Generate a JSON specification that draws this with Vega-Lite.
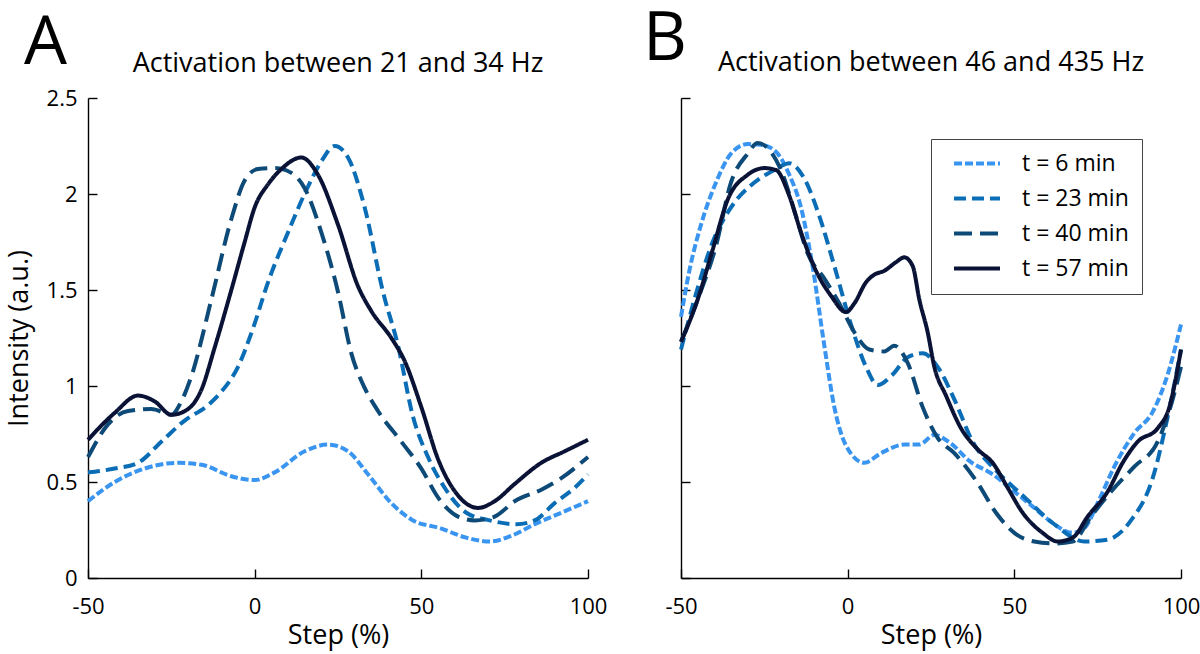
{
  "$schema": "https://vega.github.io/schema/vega-lite/v6.json",
  "background": "white",
  "padding": {"left": 5, "top": 6, "right": 0, "bottom": 5},
  "config": {
    "font": "Open Sans",
    "view": {"stroke": null},
    "axis": {
      "grid": false,
      "domainColor": "#000",
      "domainWidth": 1.4,
      "tickColor": "#000",
      "tickWidth": 1.4,
      "tickSize": -9,
      "labelFlush": false,
      "labelColor": "#000",
      "labelFontSize": 22,
      "titleFontSize": 27,
      "titleFontWeight": "normal",
      "titleColor": "#000"
    },
    "title": {"fontWeight": "normal", "color": "#000"},
    "legend": {"labelColor": "#000"}
  },
  "data": {
    "values": [
      {"panel": "A", "time": "t = 6 min", "step": -50, "value": 0.40},
      {"panel": "A", "time": "t = 6 min", "step": -42, "value": 0.50},
      {"panel": "A", "time": "t = 6 min", "step": -33, "value": 0.57},
      {"panel": "A", "time": "t = 6 min", "step": -23, "value": 0.60},
      {"panel": "A", "time": "t = 6 min", "step": -16, "value": 0.59},
      {"panel": "A", "time": "t = 6 min", "step": -7, "value": 0.53},
      {"panel": "A", "time": "t = 6 min", "step": 0, "value": 0.51},
      {"panel": "A", "time": "t = 6 min", "step": 6, "value": 0.55},
      {"panel": "A", "time": "t = 6 min", "step": 15, "value": 0.66},
      {"panel": "A", "time": "t = 6 min", "step": 22, "value": 0.695},
      {"panel": "A", "time": "t = 6 min", "step": 28, "value": 0.66},
      {"panel": "A", "time": "t = 6 min", "step": 34, "value": 0.54},
      {"panel": "A", "time": "t = 6 min", "step": 41, "value": 0.39},
      {"panel": "A", "time": "t = 6 min", "step": 47.5, "value": 0.30},
      {"panel": "A", "time": "t = 6 min", "step": 55.5, "value": 0.26},
      {"panel": "A", "time": "t = 6 min", "step": 63.5, "value": 0.21},
      {"panel": "A", "time": "t = 6 min", "step": 70.5, "value": 0.19},
      {"panel": "A", "time": "t = 6 min", "step": 77, "value": 0.22},
      {"panel": "A", "time": "t = 6 min", "step": 84, "value": 0.28},
      {"panel": "A", "time": "t = 6 min", "step": 92, "value": 0.34},
      {"panel": "A", "time": "t = 6 min", "step": 100, "value": 0.40},

      {"panel": "A", "time": "t = 23 min", "step": -50, "value": 0.55},
      {"panel": "A", "time": "t = 23 min", "step": -42, "value": 0.57},
      {"panel": "A", "time": "t = 23 min", "step": -35, "value": 0.60},
      {"panel": "A", "time": "t = 23 min", "step": -28, "value": 0.71},
      {"panel": "A", "time": "t = 23 min", "step": -21, "value": 0.82},
      {"panel": "A", "time": "t = 23 min", "step": -14, "value": 0.90},
      {"panel": "A", "time": "t = 23 min", "step": -10, "value": 0.97},
      {"panel": "A", "time": "t = 23 min", "step": -5, "value": 1.10},
      {"panel": "A", "time": "t = 23 min", "step": -0.5, "value": 1.30},
      {"panel": "A", "time": "t = 23 min", "step": 4, "value": 1.54},
      {"panel": "A", "time": "t = 23 min", "step": 10, "value": 1.80},
      {"panel": "A", "time": "t = 23 min", "step": 15.5, "value": 2.02},
      {"panel": "A", "time": "t = 23 min", "step": 20, "value": 2.17},
      {"panel": "A", "time": "t = 23 min", "step": 24, "value": 2.25},
      {"panel": "A", "time": "t = 23 min", "step": 28, "value": 2.19},
      {"panel": "A", "time": "t = 23 min", "step": 33, "value": 1.93},
      {"panel": "A", "time": "t = 23 min", "step": 38.5, "value": 1.49},
      {"panel": "A", "time": "t = 23 min", "step": 43, "value": 1.21},
      {"panel": "A", "time": "t = 23 min", "step": 47.5, "value": 0.84},
      {"panel": "A", "time": "t = 23 min", "step": 52, "value": 0.63},
      {"panel": "A", "time": "t = 23 min", "step": 57, "value": 0.47},
      {"panel": "A", "time": "t = 23 min", "step": 63.5, "value": 0.34},
      {"panel": "A", "time": "t = 23 min", "step": 70.5, "value": 0.30},
      {"panel": "A", "time": "t = 23 min", "step": 78.5, "value": 0.28},
      {"panel": "A", "time": "t = 23 min", "step": 84, "value": 0.30},
      {"panel": "A", "time": "t = 23 min", "step": 90, "value": 0.39},
      {"panel": "A", "time": "t = 23 min", "step": 96, "value": 0.47},
      {"panel": "A", "time": "t = 23 min", "step": 100, "value": 0.54},

      {"panel": "A", "time": "t = 40 min", "step": -50, "value": 0.63},
      {"panel": "A", "time": "t = 40 min", "step": -44, "value": 0.80},
      {"panel": "A", "time": "t = 40 min", "step": -38, "value": 0.87},
      {"panel": "A", "time": "t = 40 min", "step": -31, "value": 0.88},
      {"panel": "A", "time": "t = 40 min", "step": -25, "value": 0.85},
      {"panel": "A", "time": "t = 40 min", "step": -22, "value": 0.92},
      {"panel": "A", "time": "t = 40 min", "step": -19, "value": 1.05},
      {"panel": "A", "time": "t = 40 min", "step": -13, "value": 1.45},
      {"panel": "A", "time": "t = 40 min", "step": -7, "value": 1.87},
      {"panel": "A", "time": "t = 40 min", "step": -3, "value": 2.07},
      {"panel": "A", "time": "t = 40 min", "step": 1, "value": 2.13},
      {"panel": "A", "time": "t = 40 min", "step": 6, "value": 2.135},
      {"panel": "A", "time": "t = 40 min", "step": 11, "value": 2.11},
      {"panel": "A", "time": "t = 40 min", "step": 15, "value": 2.03},
      {"panel": "A", "time": "t = 40 min", "step": 20, "value": 1.80},
      {"panel": "A", "time": "t = 40 min", "step": 25, "value": 1.49},
      {"panel": "A", "time": "t = 40 min", "step": 29, "value": 1.17},
      {"panel": "A", "time": "t = 40 min", "step": 33, "value": 0.99},
      {"panel": "A", "time": "t = 40 min", "step": 37, "value": 0.87},
      {"panel": "A", "time": "t = 40 min", "step": 44, "value": 0.71},
      {"panel": "A", "time": "t = 40 min", "step": 50, "value": 0.57},
      {"panel": "A", "time": "t = 40 min", "step": 55, "value": 0.42},
      {"panel": "A", "time": "t = 40 min", "step": 61, "value": 0.32},
      {"panel": "A", "time": "t = 40 min", "step": 66, "value": 0.30},
      {"panel": "A", "time": "t = 40 min", "step": 72, "value": 0.32},
      {"panel": "A", "time": "t = 40 min", "step": 78, "value": 0.40},
      {"panel": "A", "time": "t = 40 min", "step": 86, "value": 0.46},
      {"panel": "A", "time": "t = 40 min", "step": 92, "value": 0.52},
      {"panel": "A", "time": "t = 40 min", "step": 100, "value": 0.63},

      {"panel": "A", "time": "t = 57 min", "step": -50, "value": 0.72},
      {"panel": "A", "time": "t = 57 min", "step": -42, "value": 0.86},
      {"panel": "A", "time": "t = 57 min", "step": -35, "value": 0.95},
      {"panel": "A", "time": "t = 57 min", "step": -30, "value": 0.92},
      {"panel": "A", "time": "t = 57 min", "step": -25, "value": 0.85},
      {"panel": "A", "time": "t = 57 min", "step": -20, "value": 0.88},
      {"panel": "A", "time": "t = 57 min", "step": -16, "value": 0.98},
      {"panel": "A", "time": "t = 57 min", "step": -12, "value": 1.20},
      {"panel": "A", "time": "t = 57 min", "step": -7, "value": 1.50},
      {"panel": "A", "time": "t = 57 min", "step": -3, "value": 1.75},
      {"panel": "A", "time": "t = 57 min", "step": 0, "value": 1.93},
      {"panel": "A", "time": "t = 57 min", "step": 4, "value": 2.05},
      {"panel": "A", "time": "t = 57 min", "step": 8, "value": 2.13},
      {"panel": "A", "time": "t = 57 min", "step": 14, "value": 2.19},
      {"panel": "A", "time": "t = 57 min", "step": 19, "value": 2.10},
      {"panel": "A", "time": "t = 57 min", "step": 25, "value": 1.84},
      {"panel": "A", "time": "t = 57 min", "step": 31, "value": 1.52},
      {"panel": "A", "time": "t = 57 min", "step": 35, "value": 1.39},
      {"panel": "A", "time": "t = 57 min", "step": 41, "value": 1.25},
      {"panel": "A", "time": "t = 57 min", "step": 45, "value": 1.13},
      {"panel": "A", "time": "t = 57 min", "step": 50, "value": 0.89},
      {"panel": "A", "time": "t = 57 min", "step": 55, "value": 0.62},
      {"panel": "A", "time": "t = 57 min", "step": 61, "value": 0.43},
      {"panel": "A", "time": "t = 57 min", "step": 67, "value": 0.365},
      {"panel": "A", "time": "t = 57 min", "step": 72, "value": 0.40},
      {"panel": "A", "time": "t = 57 min", "step": 78, "value": 0.49},
      {"panel": "A", "time": "t = 57 min", "step": 86, "value": 0.60},
      {"panel": "A", "time": "t = 57 min", "step": 93, "value": 0.66},
      {"panel": "A", "time": "t = 57 min", "step": 100, "value": 0.72},

      {"panel": "B", "time": "t = 6 min", "step": -50, "value": 1.36},
      {"panel": "B", "time": "t = 6 min", "step": -47.5, "value": 1.60},
      {"panel": "B", "time": "t = 6 min", "step": -44, "value": 1.84},
      {"panel": "B", "time": "t = 6 min", "step": -39.5, "value": 2.06},
      {"panel": "B", "time": "t = 6 min", "step": -35, "value": 2.21},
      {"panel": "B", "time": "t = 6 min", "step": -30, "value": 2.26},
      {"panel": "B", "time": "t = 6 min", "step": -25.5, "value": 2.255},
      {"panel": "B", "time": "t = 6 min", "step": -21, "value": 2.21},
      {"panel": "B", "time": "t = 6 min", "step": -17.5, "value": 2.10},
      {"panel": "B", "time": "t = 6 min", "step": -14, "value": 1.93},
      {"panel": "B", "time": "t = 6 min", "step": -10.5, "value": 1.62},
      {"panel": "B", "time": "t = 6 min", "step": -7, "value": 1.21},
      {"panel": "B", "time": "t = 6 min", "step": -4, "value": 0.89},
      {"panel": "B", "time": "t = 6 min", "step": -0.5, "value": 0.69},
      {"panel": "B", "time": "t = 6 min", "step": 5, "value": 0.60},
      {"panel": "B", "time": "t = 6 min", "step": 10, "value": 0.65},
      {"panel": "B", "time": "t = 6 min", "step": 17, "value": 0.695},
      {"panel": "B", "time": "t = 6 min", "step": 21.5, "value": 0.695},
      {"panel": "B", "time": "t = 6 min", "step": 26, "value": 0.745},
      {"panel": "B", "time": "t = 6 min", "step": 31, "value": 0.70},
      {"panel": "B", "time": "t = 6 min", "step": 36.5, "value": 0.61},
      {"panel": "B", "time": "t = 6 min", "step": 43.5, "value": 0.54},
      {"panel": "B", "time": "t = 6 min", "step": 50, "value": 0.45},
      {"panel": "B", "time": "t = 6 min", "step": 56, "value": 0.365},
      {"panel": "B", "time": "t = 6 min", "step": 62, "value": 0.28},
      {"panel": "B", "time": "t = 6 min", "step": 67.5, "value": 0.235},
      {"panel": "B", "time": "t = 6 min", "step": 71, "value": 0.26},
      {"panel": "B", "time": "t = 6 min", "step": 75.5, "value": 0.41},
      {"panel": "B", "time": "t = 6 min", "step": 80, "value": 0.58},
      {"panel": "B", "time": "t = 6 min", "step": 86, "value": 0.755},
      {"panel": "B", "time": "t = 6 min", "step": 91.5, "value": 0.865},
      {"panel": "B", "time": "t = 6 min", "step": 96, "value": 1.06},
      {"panel": "B", "time": "t = 6 min", "step": 100, "value": 1.32},

      {"panel": "B", "time": "t = 23 min", "step": -50, "value": 1.19},
      {"panel": "B", "time": "t = 23 min", "step": -46, "value": 1.45},
      {"panel": "B", "time": "t = 23 min", "step": -40.5, "value": 1.75},
      {"panel": "B", "time": "t = 23 min", "step": -35, "value": 1.93},
      {"panel": "B", "time": "t = 23 min", "step": -28, "value": 2.06},
      {"panel": "B", "time": "t = 23 min", "step": -22, "value": 2.125},
      {"panel": "B", "time": "t = 23 min", "step": -17.5, "value": 2.16},
      {"panel": "B", "time": "t = 23 min", "step": -13, "value": 2.08},
      {"panel": "B", "time": "t = 23 min", "step": -8.5, "value": 1.885},
      {"panel": "B", "time": "t = 23 min", "step": -4, "value": 1.625},
      {"panel": "B", "time": "t = 23 min", "step": 1, "value": 1.32},
      {"panel": "B", "time": "t = 23 min", "step": 5.5, "value": 1.10},
      {"panel": "B", "time": "t = 23 min", "step": 9, "value": 1.005},
      {"panel": "B", "time": "t = 23 min", "step": 13.5, "value": 1.06},
      {"panel": "B", "time": "t = 23 min", "step": 18, "value": 1.15},
      {"panel": "B", "time": "t = 23 min", "step": 22.5, "value": 1.17},
      {"panel": "B", "time": "t = 23 min", "step": 27, "value": 1.10},
      {"panel": "B", "time": "t = 23 min", "step": 32, "value": 0.93},
      {"panel": "B", "time": "t = 23 min", "step": 37.5, "value": 0.71},
      {"panel": "B", "time": "t = 23 min", "step": 44.5, "value": 0.56},
      {"panel": "B", "time": "t = 23 min", "step": 52.5, "value": 0.43},
      {"panel": "B", "time": "t = 23 min", "step": 62, "value": 0.28},
      {"panel": "B", "time": "t = 23 min", "step": 71, "value": 0.19},
      {"panel": "B", "time": "t = 23 min", "step": 78, "value": 0.20},
      {"panel": "B", "time": "t = 23 min", "step": 85, "value": 0.30},
      {"panel": "B", "time": "t = 23 min", "step": 91.5, "value": 0.52},
      {"panel": "B", "time": "t = 23 min", "step": 96, "value": 0.84},
      {"panel": "B", "time": "t = 23 min", "step": 100, "value": 1.19},

      {"panel": "B", "time": "t = 40 min", "step": -50, "value": 1.23},
      {"panel": "B", "time": "t = 40 min", "step": -45, "value": 1.45},
      {"panel": "B", "time": "t = 40 min", "step": -39.5, "value": 1.73},
      {"panel": "B", "time": "t = 40 min", "step": -35, "value": 2.06},
      {"panel": "B", "time": "t = 40 min", "step": -30, "value": 2.21},
      {"panel": "B", "time": "t = 40 min", "step": -27, "value": 2.265},
      {"panel": "B", "time": "t = 40 min", "step": -23.5, "value": 2.23},
      {"panel": "B", "time": "t = 40 min", "step": -20, "value": 2.125},
      {"panel": "B", "time": "t = 40 min", "step": -15.5, "value": 1.885},
      {"panel": "B", "time": "t = 40 min", "step": -12, "value": 1.69},
      {"panel": "B", "time": "t = 40 min", "step": -7, "value": 1.56},
      {"panel": "B", "time": "t = 40 min", "step": -2.5, "value": 1.43},
      {"panel": "B", "time": "t = 40 min", "step": 2, "value": 1.28},
      {"panel": "B", "time": "t = 40 min", "step": 6.5, "value": 1.19},
      {"panel": "B", "time": "t = 40 min", "step": 11, "value": 1.18},
      {"panel": "B", "time": "t = 40 min", "step": 14, "value": 1.21},
      {"panel": "B", "time": "t = 40 min", "step": 18, "value": 1.12},
      {"panel": "B", "time": "t = 40 min", "step": 22.5, "value": 0.89},
      {"panel": "B", "time": "t = 40 min", "step": 27, "value": 0.73},
      {"panel": "B", "time": "t = 40 min", "step": 32, "value": 0.65},
      {"panel": "B", "time": "t = 40 min", "step": 39, "value": 0.495},
      {"panel": "B", "time": "t = 40 min", "step": 44.5, "value": 0.34},
      {"panel": "B", "time": "t = 40 min", "step": 50, "value": 0.235},
      {"panel": "B", "time": "t = 40 min", "step": 56, "value": 0.19},
      {"panel": "B", "time": "t = 40 min", "step": 62, "value": 0.18},
      {"panel": "B", "time": "t = 40 min", "step": 67.5, "value": 0.19},
      {"panel": "B", "time": "t = 40 min", "step": 73, "value": 0.32},
      {"panel": "B", "time": "t = 40 min", "step": 79, "value": 0.45},
      {"panel": "B", "time": "t = 40 min", "step": 86, "value": 0.58},
      {"panel": "B", "time": "t = 40 min", "step": 93, "value": 0.71},
      {"panel": "B", "time": "t = 40 min", "step": 97.5, "value": 0.93},
      {"panel": "B", "time": "t = 40 min", "step": 100, "value": 1.10},

      {"panel": "B", "time": "t = 57 min", "step": -50, "value": 1.23},
      {"panel": "B", "time": "t = 57 min", "step": -45, "value": 1.45},
      {"panel": "B", "time": "t = 57 min", "step": -40.5, "value": 1.71},
      {"panel": "B", "time": "t = 57 min", "step": -36, "value": 1.97},
      {"panel": "B", "time": "t = 57 min", "step": -30, "value": 2.10},
      {"panel": "B", "time": "t = 57 min", "step": -25, "value": 2.135},
      {"panel": "B", "time": "t = 57 min", "step": -21.5, "value": 2.125},
      {"panel": "B", "time": "t = 57 min", "step": -17.5, "value": 1.99},
      {"panel": "B", "time": "t = 57 min", "step": -14, "value": 1.80},
      {"panel": "B", "time": "t = 57 min", "step": -9.5, "value": 1.60},
      {"panel": "B", "time": "t = 57 min", "step": -5, "value": 1.47},
      {"panel": "B", "time": "t = 57 min", "step": -0.5, "value": 1.385},
      {"panel": "B", "time": "t = 57 min", "step": 2, "value": 1.43},
      {"panel": "B", "time": "t = 57 min", "step": 5.5, "value": 1.54},
      {"panel": "B", "time": "t = 57 min", "step": 8, "value": 1.58},
      {"panel": "B", "time": "t = 57 min", "step": 11, "value": 1.60},
      {"panel": "B", "time": "t = 57 min", "step": 14.5, "value": 1.645},
      {"panel": "B", "time": "t = 57 min", "step": 17, "value": 1.67},
      {"panel": "B", "time": "t = 57 min", "step": 19.5, "value": 1.625},
      {"panel": "B", "time": "t = 57 min", "step": 21.5, "value": 1.45},
      {"panel": "B", "time": "t = 57 min", "step": 24, "value": 1.28},
      {"panel": "B", "time": "t = 57 min", "step": 26, "value": 1.10},
      {"panel": "B", "time": "t = 57 min", "step": 29.5, "value": 0.95},
      {"panel": "B", "time": "t = 57 min", "step": 34, "value": 0.78},
      {"panel": "B", "time": "t = 57 min", "step": 39, "value": 0.67},
      {"panel": "B", "time": "t = 57 min", "step": 43.5, "value": 0.60},
      {"panel": "B", "time": "t = 57 min", "step": 48, "value": 0.47},
      {"panel": "B", "time": "t = 57 min", "step": 52.5, "value": 0.34},
      {"panel": "B", "time": "t = 57 min", "step": 58.5, "value": 0.235},
      {"panel": "B", "time": "t = 57 min", "step": 63, "value": 0.19},
      {"panel": "B", "time": "t = 57 min", "step": 67.5, "value": 0.21},
      {"panel": "B", "time": "t = 57 min", "step": 72, "value": 0.32},
      {"panel": "B", "time": "t = 57 min", "step": 78, "value": 0.45},
      {"panel": "B", "time": "t = 57 min", "step": 82.5, "value": 0.60},
      {"panel": "B", "time": "t = 57 min", "step": 87, "value": 0.71},
      {"panel": "B", "time": "t = 57 min", "step": 93, "value": 0.78},
      {"panel": "B", "time": "t = 57 min", "step": 96.5, "value": 0.89},
      {"panel": "B", "time": "t = 57 min", "step": 100, "value": 1.19}
    ]
  },
  "spacing": 36,
  "resolve": {"scale": {"color": "independent", "strokeDash": "independent"}},
  "hconcat": [
    {
      "title": {"text": "A", "anchor": "start", "frame": "group", "fontSize": 68, "offset": -28, "dx": -64},
      "resolve": {"scale": {"color": "independent", "strokeDash": "independent"}},
      "vconcat": [
        {
          "title": {"text": "Activation between 21 and 34 Hz", "fontSize": 27, "offset": 9},
          "width": 500,
          "height": 480,
          "transform": [{"filter": "datum.panel === 'A'"}],
          "mark": {"type": "line", "strokeWidth": 4, "interpolate": "monotone"},
          "encoding": {
            "x": {
              "field": "step", "type": "quantitative",
              "scale": {"domain": [-50, 100], "nice": false},
              "axis": {"values": [-50, 0, 50, 100], "labelExpr": "'' + datum.value", "title": "Step (%)", "labelPadding": 27, "titlePadding": 5}
            },
            "y": {
              "field": "value", "type": "quantitative",
              "scale": {"domain": [0, 2.5], "nice": false},
              "axis": {"values": [0, 0.5, 1, 1.5, 2, 2.5], "format": "~g", "title": "Intensity (a.u.)", "labelPadding": 20, "titlePadding": 13}
            },
            "color": {
              "field": "time", "type": "nominal",
              "scale": {"domain": ["t = 6 min", "t = 23 min", "t = 40 min", "t = 57 min"], "range": ["#3a95f0", "#0b6db5", "#0e4a77", "#0a1336"]},
              "legend": null
            },
            "strokeDash": {
              "field": "time", "type": "nominal",
              "scale": {"domain": ["t = 6 min", "t = 23 min", "t = 40 min", "t = 57 min"], "range": [[8, 3], [12, 6], [18, 8], [1, 0]]},
              "legend": null
            }
          }
        }
      ]
    },
    {
      "title": {"text": "B", "anchor": "start", "frame": "group", "fontSize": 68, "offset": -25, "dx": -38},
      "resolve": {"scale": {"color": "independent", "strokeDash": "independent"}},
      "vconcat": [
        {
          "title": {"text": "Activation between 46 and 435 Hz", "fontSize": 27, "offset": 20},
          "width": 500,
          "height": 480,
          "transform": [{"filter": "datum.panel === 'B'"}],
          "mark": {"type": "line", "strokeWidth": 4, "interpolate": "monotone"},
          "encoding": {
            "x": {
              "field": "step", "type": "quantitative",
              "scale": {"domain": [-50, 100], "nice": false},
              "axis": {"values": [-50, 0, 50, 100], "labelExpr": "'' + datum.value", "title": "Step (%)", "labelPadding": 27, "titlePadding": 5}
            },
            "y": {
              "field": "value", "type": "quantitative",
              "scale": {"domain": [0, 2.5], "nice": false},
              "axis": {"values": [0, 0.5, 1, 1.5, 2, 2.5], "labels": false, "title": null}
            },
            "color": {
              "field": "time", "type": "nominal",
              "scale": {"domain": ["t = 6 min", "t = 23 min", "t = 40 min", "t = 57 min"], "range": ["#3a95f0", "#0b6db5", "#0e4a77", "#0a1336"]},
              "legend": {"orient": "none", "legendX": 250, "legendY": 41, "title": null, "symbolType": "stroke", "symbolSize": 2116, "symbolStrokeWidth": 4, "symbolOffset": 8, "clipHeight": 23, "labelFontSize": 23, "rowPadding": 11, "padding": 13, "labelOffset": 20, "strokeColor": "#444", "fillColor": "white"}
            },
            "strokeDash": {
              "field": "time", "type": "nominal",
              "scale": {"domain": ["t = 6 min", "t = 23 min", "t = 40 min", "t = 57 min"], "range": [[8, 3], [12, 6], [18, 8], [1, 0]]},
              "legend": {"orient": "none", "legendX": 250, "legendY": 41, "title": null, "symbolType": "stroke", "symbolSize": 2116, "symbolStrokeWidth": 4, "symbolOffset": 8, "clipHeight": 23, "labelFontSize": 23, "rowPadding": 11, "padding": 13, "labelOffset": 20, "strokeColor": "#444", "fillColor": "white"}
            }
          }
        }
      ]
    }
  ]
}
